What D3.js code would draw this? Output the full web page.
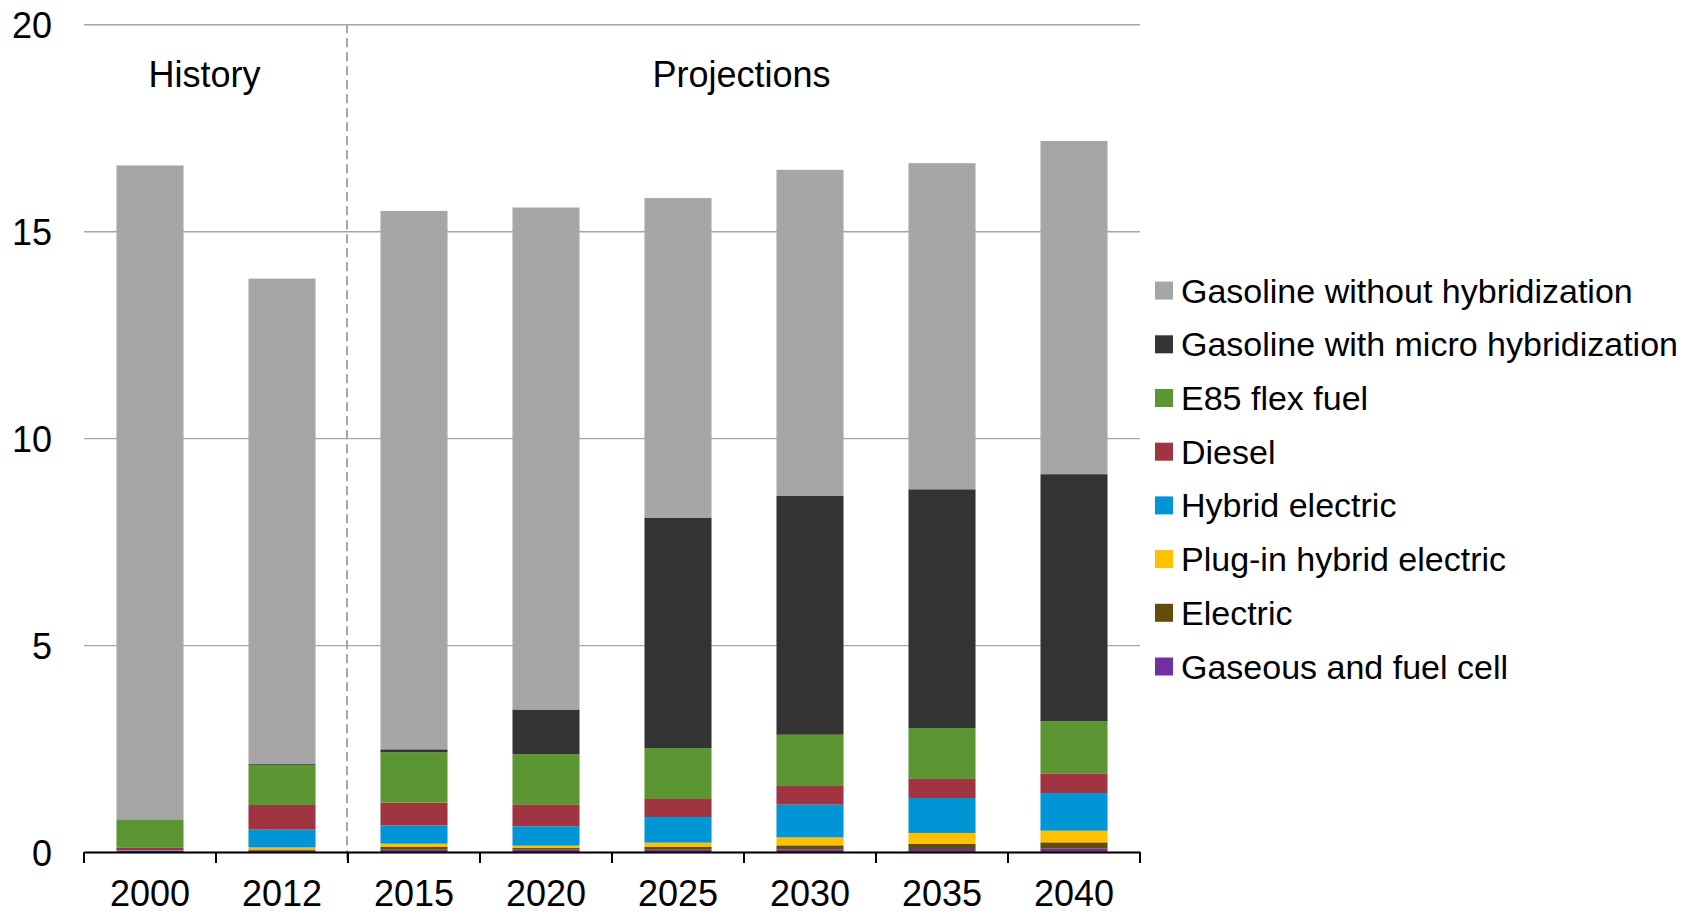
<!DOCTYPE html>
<html>
<head>
<meta charset="utf-8">
<script src="https://cdn.jsdelivr.net/npm/d3@7"></script>
<style>
  html, body { margin: 0; padding: 0; background: #fff; }
  svg { display: block; }
  text { font-family: "Liberation Sans", Arial, sans-serif; fill: #000; }
</style>
</head>
<body>
<svg id="chart" width="1694" height="915"></svg>
<script>
// Light-duty vehicle sales by technology type (million vehicles)
const years = ["2000", "2012", "2015", "2020", "2025", "2030", "2035", "2040"];

// Series, listed bottom of the stack to top
const gaseous  = [0.03, 0.03, 0.056, 0.056, 0.056, 0.064, 0.072, 0.08];
const electric = [0.00, 0.03, 0.065, 0.04, 0.065, 0.097, 0.128, 0.153];
const plugin   = [0.00, 0.05, 0.08, 0.057, 0.105, 0.193, 0.26, 0.282];
const hybrid   = [0.01, 0.43, 0.44, 0.47, 0.62, 0.79, 0.845, 0.91];
const diesel   = [0.06, 0.595, 0.55, 0.515, 0.435, 0.45, 0.46, 0.475];
const e85      = [0.69, 0.97, 1.22, 1.225, 1.23, 1.24, 1.23, 1.26];
const micro    = [0.00, 0.02, 0.07, 1.08, 5.57, 5.77, 5.77, 5.97];
const gasoline = [15.8, 11.73, 13.01, 12.13, 7.72, 7.88, 7.88, 8.05];

const yTicks = [0, 5, 10, 15, 20];
const periodLabels = ["History", "Projections"];

const series = [
  { key: "gaseous",  name: "Gaseous and fuel cell",            values: gaseous,  color: "#7030a0" },
  { key: "electric", name: "Electric",                         values: electric, color: "#634b0a" },
  { key: "plugin",   name: "Plug-in hybrid electric",          values: plugin,   color: "#ffc000" },
  { key: "hybrid",   name: "Hybrid electric",                  values: hybrid,   color: "#0096d6" },
  { key: "diesel",   name: "Diesel",                           values: diesel,   color: "#a13441" },
  { key: "e85",      name: "E85 flex fuel",                    values: e85,      color: "#5b9632" },
  { key: "micro",    name: "Gasoline with micro hybridization", values: micro,    color: "#333333" },
  { key: "gasoline", name: "Gasoline without hybridization",   values: gasoline, color: "#a6a6a6" }
];

// Table for d3.stack
const table = years.map((yr, i) => {
  const row = { year: yr };
  series.forEach(s => { row[s.key] = s.values[i]; });
  return row;
});

const svg = d3.select("#chart");
const plotLeft = 84, plotRight = 1140, plotTop = 24.3, plotBottom = 852;

const x = d3.scaleBand().domain(years).range([plotLeft, plotRight])
  .paddingInner(0.492).paddingOuter(0.246);
const y = d3.scaleLinear().domain([0, 20]).range([plotBottom, plotTop]);

// Gridlines
const grid = svg.append("g").attr("transform", `translate(${plotLeft},0)`)
  .call(d3.axisLeft(y).tickValues(yTicks).tickSize(-(plotRight - plotLeft)).tickFormat(""));
grid.select(".domain").remove();
grid.selectAll(".tick line").attr("stroke", "#a6a6a6").attr("stroke-width", 1.4);

// Y tick labels
svg.append("g").selectAll("text").data(yTicks).join("text")
  .attr("x", 52)
  .attr("y", d => y(d) + 13.5)
  .attr("text-anchor", "end")
  .style("font-size", "36px")
  .text(d => d);

// Stacked bars
const stacked = d3.stack().keys(series.map(s => s.key))(table);
svg.append("g").selectAll("g").data(stacked).join("g")
  .attr("fill", (d, i) => series[i].color)
  .selectAll("rect").data(d => d).join("rect")
  .attr("x", d => x(d.data.year))
  .attr("width", x.bandwidth())
  .attr("y", d => y(d[1]))
  .attr("height", d => Math.max(0, y(d[0]) - y(d[1])));

// History / Projections divider
const divX = (x("2012") + x.bandwidth() + x("2015")) / 2 - 1;
svg.append("line")
  .attr("x1", divX).attr("x2", divX)
  .attr("y1", plotTop).attr("y2", plotBottom + 8)
  .attr("stroke", "#a6a6a6").attr("stroke-width", 2)
  .attr("stroke-dasharray", "9,5");

// X axis with boundary ticks
const xAxis = svg.append("g").attr("transform", `translate(0,${plotBottom})`)
  .call(d3.axisBottom(x).tickSize(0).tickFormat(""));
xAxis.select(".domain").attr("stroke", "#000").attr("stroke-width", 2);
const step = x.step();
const boundaries = d3.range(years.length + 1).map(i => plotLeft + i * step);
svg.append("g").selectAll("line").data(boundaries).join("line")
  .attr("x1", d => d).attr("x2", d => d)
  .attr("y1", plotBottom).attr("y2", plotBottom + 11)
  .attr("stroke", "#000").attr("stroke-width", 2);

// X tick labels
svg.append("g").selectAll("text").data(years).join("text")
  .attr("x", d => x(d) + x.bandwidth() / 2)
  .attr("y", 906)
  .attr("text-anchor", "middle")
  .style("font-size", "36px")
  .text(d => d);

// Period labels
const histCenter = (plotLeft + divX) / 2 - 11;
const projCenter = (divX + plotRight) / 2 - 2;
svg.append("g").selectAll("text").data(periodLabels).join("text")
  .attr("x", (d, i) => i === 0 ? histCenter : projCenter)
  .attr("y", 87)
  .attr("text-anchor", "middle")
  .style("font-size", "36px")
  .text(d => d);

// Legend (top entry is the top of the stack)
const legendItems = series.slice().reverse();
const legend = svg.append("g").selectAll("g").data(legendItems).join("g")
  .attr("transform", (d, i) => `translate(1155,${290.6 + i * 53.7})`);
legend.append("rect")
  .attr("x", 0).attr("y", -9).attr("width", 18).attr("height", 18)
  .attr("fill", d => d.color);
legend.append("text")
  .attr("x", 26).attr("y", 12)
  .style("font-size", "34px")
  .text(d => d.name);
</script>
</body>
</html>
